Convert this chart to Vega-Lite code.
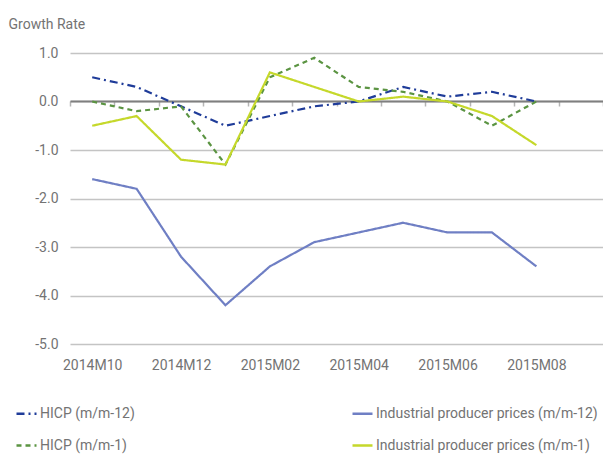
{
  "$schema": "https://vega.github.io/schema/vega-lite/v6.json",
  "width": 533,
  "height": 291,
  "autosize": {"type": "none"},
  "padding": {"left": 70, "top": 53, "right": 0, "bottom": 111},
  "background": "white",
  "data": {
    "values": [
      {"month": "2014M10", "series": "HICP (m/m-12)", "value": 0.5},
      {"month": "2014M11", "series": "HICP (m/m-12)", "value": 0.3},
      {"month": "2014M12", "series": "HICP (m/m-12)", "value": -0.1},
      {"month": "2015M01", "series": "HICP (m/m-12)", "value": -0.5},
      {"month": "2015M02", "series": "HICP (m/m-12)", "value": -0.3},
      {"month": "2015M03", "series": "HICP (m/m-12)", "value": -0.1},
      {"month": "2015M04", "series": "HICP (m/m-12)", "value": 0.0},
      {"month": "2015M05", "series": "HICP (m/m-12)", "value": 0.3},
      {"month": "2015M06", "series": "HICP (m/m-12)", "value": 0.1},
      {"month": "2015M07", "series": "HICP (m/m-12)", "value": 0.2},
      {"month": "2015M08", "series": "HICP (m/m-12)", "value": 0.0},
      {"month": "2014M10", "series": "Industrial producer prices (m/m-12)", "value": -1.6},
      {"month": "2014M11", "series": "Industrial producer prices (m/m-12)", "value": -1.8},
      {"month": "2014M12", "series": "Industrial producer prices (m/m-12)", "value": -3.2},
      {"month": "2015M01", "series": "Industrial producer prices (m/m-12)", "value": -4.2},
      {"month": "2015M02", "series": "Industrial producer prices (m/m-12)", "value": -3.4},
      {"month": "2015M03", "series": "Industrial producer prices (m/m-12)", "value": -2.9},
      {"month": "2015M04", "series": "Industrial producer prices (m/m-12)", "value": -2.7},
      {"month": "2015M05", "series": "Industrial producer prices (m/m-12)", "value": -2.5},
      {"month": "2015M06", "series": "Industrial producer prices (m/m-12)", "value": -2.7},
      {"month": "2015M07", "series": "Industrial producer prices (m/m-12)", "value": -2.7},
      {"month": "2015M08", "series": "Industrial producer prices (m/m-12)", "value": -3.4},
      {"month": "2014M10", "series": "HICP (m/m-1)", "value": 0.0},
      {"month": "2014M11", "series": "HICP (m/m-1)", "value": -0.2},
      {"month": "2014M12", "series": "HICP (m/m-1)", "value": -0.1},
      {"month": "2015M01", "series": "HICP (m/m-1)", "value": -1.3},
      {"month": "2015M02", "series": "HICP (m/m-1)", "value": 0.5},
      {"month": "2015M03", "series": "HICP (m/m-1)", "value": 0.9},
      {"month": "2015M04", "series": "HICP (m/m-1)", "value": 0.3},
      {"month": "2015M05", "series": "HICP (m/m-1)", "value": 0.2},
      {"month": "2015M06", "series": "HICP (m/m-1)", "value": 0.0},
      {"month": "2015M07", "series": "HICP (m/m-1)", "value": -0.5},
      {"month": "2015M08", "series": "HICP (m/m-1)", "value": 0.0},
      {"month": "2014M10", "series": "Industrial producer prices (m/m-1)", "value": -0.5},
      {"month": "2014M11", "series": "Industrial producer prices (m/m-1)", "value": -0.3},
      {"month": "2014M12", "series": "Industrial producer prices (m/m-1)", "value": -1.2},
      {"month": "2015M01", "series": "Industrial producer prices (m/m-1)", "value": -1.3},
      {"month": "2015M02", "series": "Industrial producer prices (m/m-1)", "value": 0.6},
      {"month": "2015M03", "series": "Industrial producer prices (m/m-1)", "value": 0.3},
      {"month": "2015M04", "series": "Industrial producer prices (m/m-1)", "value": 0.0},
      {"month": "2015M05", "series": "Industrial producer prices (m/m-1)", "value": 0.1},
      {"month": "2015M06", "series": "Industrial producer prices (m/m-1)", "value": 0.0},
      {"month": "2015M07", "series": "Industrial producer prices (m/m-1)", "value": -0.3},
      {"month": "2015M08", "series": "Industrial producer prices (m/m-1)", "value": -0.9}
    ]
  },
  "mark": {"type": "line", "strokeWidth": 2.2, "clip": false},
  "encoding": {
    "x": {
      "field": "month",
      "type": "ordinal",
      "scale": {
        "type": "band",
        "domain": ["2014M10", "2014M11", "2014M12", "2015M01", "2015M02", "2015M03", "2015M04", "2015M05", "2015M06", "2015M07", "2015M08", "2015M09"],
        "paddingInner": 0,
        "paddingOuter": 0
      },
      "axis": {
        "title": null,
        "orient": "bottom",
        "offset": -243,
        "domainColor": "#7f7f7f",
        "domainWidth": 2,
        "ticks": true,
        "tickBand": "extent",
        "tickSize": 5,
        "tickWidth": 1.5,
        "tickColor": "#b5b5b5",
        "labelAngle": 0,
        "labelPadding": 252,
        "labelFont": "Roboto",
        "labelFontSize": 14,
        "labelColor": "#737373",
        "labelExpr": "indexof(['2014M10','2014M12','2015M02','2015M04','2015M06','2015M08'], datum.value) >= 0 ? datum.value : ''",
        "grid": false
      }
    },
    "y": {
      "field": "value",
      "type": "quantitative",
      "scale": {"domain": [-5, 1], "nice": false, "zero": false},
      "axis": {
        "title": "Growth Rate",
        "titleAngle": 0,
        "titleAlign": "left",
        "titleBaseline": "alphabetic",
        "titleX": -62,
        "titleY": -25,
        "titleFont": "Roboto",
        "titleFontSize": 14,
        "titleFontWeight": "normal",
        "titleColor": "#737373",
        "values": [-5, -4, -3, -2, -1, 0, 1],
        "format": ".1f",
        "labelExpr": "replace(datum.label, '\u2212', '-')",
        "domain": false,
        "ticks": false,
        "labelPadding": 12,
        "labelFont": "Roboto",
        "labelFontSize": 14,
        "labelColor": "#737373",
        "grid": true,
        "gridColor": "#c4c4c4",
        "gridWidth": 1.5
      }
    },
    "color": {
      "field": "series",
      "type": "nominal",
      "scale": {
        "domain": ["HICP (m/m-12)", "HICP (m/m-1)", "Industrial producer prices (m/m-12)", "Industrial producer prices (m/m-1)"],
        "range": ["#1f3c99", "#5b9442", "#6f7fc4", "#c5d82b"]
      },
      "legend": {
        "title": null,
        "orient": "none",
        "legendX": -55,
        "legendY": 349,
        "columns": 2,
        "columnPadding": 212,
        "rowPadding": 13,
        "symbolType": "stroke",
        "symbolSize": 400,
        "symbolStrokeWidth": 2.5,
        "labelFont": "Roboto",
        "labelFontSize": 14,
        "labelColor": "#737373",
        "labelOffset": 2,
        "labelLimit": 400
      }
    },
    "strokeDash": {
      "field": "series",
      "type": "nominal",
      "scale": {
        "domain": ["HICP (m/m-12)", "HICP (m/m-1)", "Industrial producer prices (m/m-12)", "Industrial producer prices (m/m-1)"],
        "range": [[8, 4, 2, 4], [5, 4], [1, 0], [1, 0]]
      },
      "legend": {
        "title": null,
        "orient": "none",
        "legendX": -55,
        "legendY": 349,
        "columns": 2,
        "columnPadding": 212,
        "rowPadding": 13,
        "symbolType": "stroke",
        "symbolSize": 400,
        "symbolStrokeWidth": 2.5,
        "labelFont": "Roboto",
        "labelFontSize": 14,
        "labelColor": "#737373",
        "labelOffset": 2,
        "labelLimit": 400
      }
    }
  },
  "config": {
    "view": {"stroke": null}
  }
}
